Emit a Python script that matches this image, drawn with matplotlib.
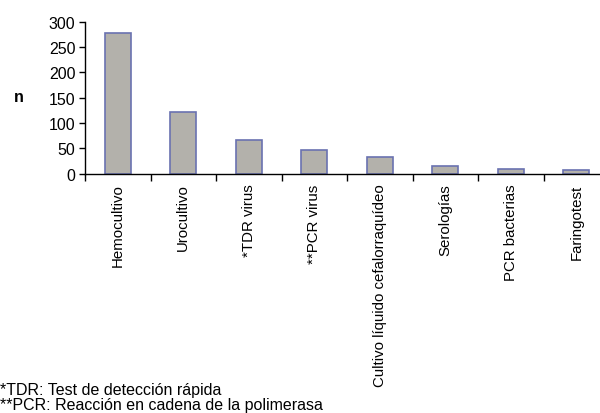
import matplotlib
matplotlib.use("Agg")
from matplotlib import pyplot as plt
import numpy as np

plt.rcParams["font.family"] = ["Liberation Sans", "DejaVu Sans"]

categories = ["Hemocultivo", "Urocultivo", "*TDR virus", "**PCR virus",
              "Cultivo líquido cefalorraquídeo", "Serologías", "PCR bacterias",
              "Faringotest"]
values = [277, 122, 66, 47, 33, 16, 10, 7]

fig = plt.figure(figsize=(6, 4.14), dpi=100)
ax = fig.add_axes([0.1417, 0.578, 1.015 - 0.1417, 0.367])

x = np.arange(len(categories))
ax.bar(x, values, width=0.4, color="#b3b1ab", edgecolor="#6a72b0", linewidth=1.2)

ax.set_xlim(-0.5, len(categories) - 0.5)
ax.set_ylim(0, 300)
ax.set_yticks(range(0, 301, 50))
ax.set_xticks(x)
ax.set_xticklabels(categories, rotation=90, fontsize=10.8)
ax.tick_params(axis="x", which="major", length=0, pad=7)
ax.set_xticks(np.arange(-0.5, len(categories), 1), minor=True)
ax.tick_params(axis="x", which="minor", length=5, width=1, direction="out")
ax.tick_params(axis="y", labelsize=11.5, length=4, width=1, direction="out", pad=3)

for side in ["top", "right"]:
    ax.spines[side].set_visible(False)
ax.spines["left"].set_linewidth(1)
ax.spines["bottom"].set_linewidth(1)

fig.text(0.031, 1 - 97 / 414, "n", fontsize=11.5, fontweight="bold", ha="center", va="center")

fig.text(0.0, 1 - 391 / 414, "*TDR: Test de detección rápida", fontsize=11.5, va="center")
fig.text(0.0, 1 - 406 / 414, "**PCR: Reacción en cadena de la polimerasa", fontsize=11.5, va="center")

fig.savefig("out.png", dpi=100)
